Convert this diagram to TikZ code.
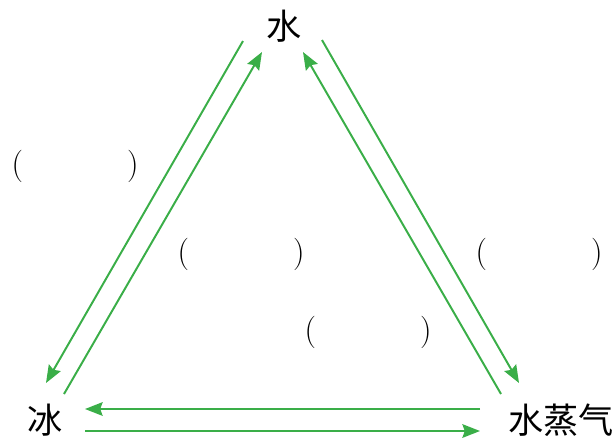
\documentclass[tikz,border=0pt]{standalone}
\usepackage{fontspec}
\newfontfamily\cjk{Noto Sans CJK SC}
\usetikzlibrary{arrows.meta}
\definecolor{arrowgreen}{HTML}{3AAE48}

\begin{document}
\begin{tikzpicture}[x=0.025cm, y=-0.025cm,
  state/.style={inner sep=0pt, font=\cjk\fontsize{25}{28}\selectfont},
  blank/.style={inner sep=0pt, font=\fontsize{23}{26}\selectfont},
  arr/.style={-{Stealth[length=0.44cm, width=0.34cm, inset=0.06cm]}, line width=1.4pt, arrowgreen}
]
  \useasboundingbox (0,0) rectangle (616,437);

  % three states
  \node[state] (water) at (284,26) {水};
  \node[state] (ice) at (45,420) {冰};
  \node[state] (vapor) at (561,420) {水蒸气};

  % blanks
  \node[blank] (b1) at (75,166) {(\hspace{2.6cm})};
  \node[blank] (b2) at (241,254) {(\hspace{2.6cm})};
  \node[blank] (b3) at (539,254) {(\hspace{2.6cm})};
  \node[blank] (b4) at (368,332) {(\hspace{2.6cm})};

  % arrow ends
  \coordinate (wl1) at (243,41);
  \coordinate (il1) at (46,383);
  \coordinate (il2) at (64,394);
  \coordinate (wl2) at (262,52);
  \coordinate (vr1) at (501,394);
  \coordinate (wr1) at (303,52);
  \coordinate (wr2) at (322,40);
  \coordinate (vr2) at (519,383);
  \coordinate (vb1) at (480,409);
  \coordinate (ib1) at (85,409);
  \coordinate (ib2) at (85,431);
  \coordinate (vb2) at (480,431);

  \draw[arr] (wl1) -- (il1);
  \draw[arr] (il2) -- (wl2);
  \draw[arr] (vr1) -- (wr1);
  \draw[arr] (wr2) -- (vr2);
  \draw[arr] (vb1) -- (ib1);
  \draw[arr] (ib2) -- (vb2);
\end{tikzpicture}
\end{document}
